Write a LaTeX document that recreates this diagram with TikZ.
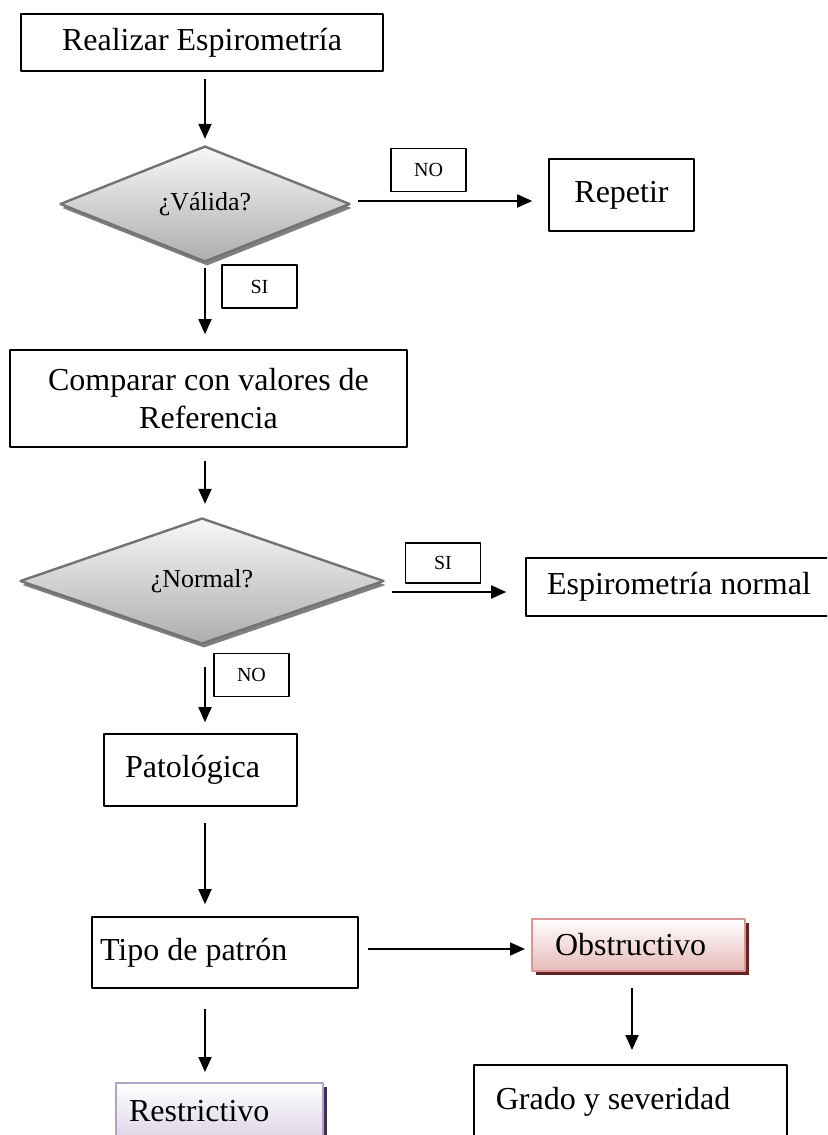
\documentclass[tikz,border=0pt]{standalone}
\usepackage{fontspec}
\setmainfont{Liberation Serif}
\usetikzlibrary{arrows.meta,shapes.geometric,shadows}
\definecolor{rosaborde}{HTML}{D99694}
\definecolor{rosafondo}{HTML}{E6B9B8}
\definecolor{rosasombra}{HTML}{632523}
\definecolor{lilaborde}{HTML}{B3A2C7}
\definecolor{lilafondo}{HTML}{CCC1DA}
\definecolor{lilasombra}{HTML}{3F3151}
\tikzset{
caja/.style={draw, line width=.8pt, inner sep=0pt},
etiqueta/.style={draw, line width=.8pt, inner sep=0pt, minimum width=37.5pt, minimum height=21.5pt, font=\fontsize{10}{12}\selectfont},
decision/.style={diamond, draw=black!55, line width=1.2pt, inner sep=0pt, top color=black!3, bottom color=black!32, font=\fontsize{13}{15}\selectfont, drop shadow={shadow xshift=1pt, shadow yshift=-2pt, fill=black!50, opacity=1}}
}
\begin{document}
\begin{tikzpicture}[x=.5pt, y=-.5pt, font=\fontsize{16}{19}\selectfont, line join=round, >={Triangle[length=7.5pt,width=6.5pt]}]
\useasboundingbox (0,0) rectangle (827,1135);
\clip (0,0) rectangle (827,1135);
\coordinate (eje) at (205,0); % eje de las flechas verticales
\path 
(202,42.5) node[caja, minimum width=181pt, minimum height=28.5pt] (real) {Realizar Espirometría}
(205,204) node[decision, minimum width=145pt, minimum height=46pt] (valida) {¿Válida?}
(621.5,195) node[caja, minimum width=72.5pt, minimum height=36pt] (repetir) {Repetir}
(208.5,398.5) node[caja, minimum width=198.5pt, minimum height=48.5pt, align=center] (comp) {Comparar con valores de\\Referencia}
(202,581) node[decision, minimum width=182pt, minimum height=40pt] (normal) {¿Normal?}
(688,587) node[caja, minimum height=29pt, inner xsep=10.5pt, text width=141pt, align=flush left] (esp) {Espirometría normal}
(200.5,770) node[caja, minimum height=36pt, inner xsep=10.5pt, text width=75.5pt, align=flush left] (pato) {Patológica}
(225,952.5) node[caja, minimum height=35.5pt, inner xsep=4pt, text width=125pt, align=flush left] (tipo) {Tipo de patrón}
(638.5,945) node[caja, draw=rosaborde, line width=1pt, top color=white, bottom color=rosafondo, drop shadow={shadow xshift=1.75pt, shadow yshift=-1.75pt, fill=rosasombra, opacity=1}, minimum height=26pt, inner xsep=11.5pt, text width=83.5pt, align=flush left] (obst) {Obstructivo}
(473,1064) node[caja, anchor=north west, inner xsep=11pt, text width=134.5pt, align=flush left, text height=22.25pt, text depth=26pt] (grado) {Grado y severidad}
(115,1082) node[caja, anchor=north west, draw=lilaborde, line width=1pt, top color=white, bottom color=lilafondo, drop shadow={shadow xshift=1.75pt, shadow yshift=-1.75pt, fill=lilasombra, opacity=1}, inner xsep=6.5pt, text width=90.5pt, align=flush left, text height=19.25pt, text depth=22pt] (restr) {Restrictivo}
(428.5,170) node[etiqueta] (no1) {NO}
(259.5,286.5) node[etiqueta] (si1) {SI}
(443,563) node[etiqueta, minimum height=20pt] (si2) {SI}
(251.5,675) node[etiqueta] (no2) {NO};
\draw[line width=.9pt] 
(real.south -| eje) edge[->, shorten <=3.5pt, shorten >=3pt] (valida.north)
([yshift=1.5pt]valida.east) edge[->, shorten <=3.5pt, shorten >=8pt] ([yshift=1.5pt]valida.east -| repetir.west)
(valida.south) edge[->, shorten <=2.5pt, shorten >=7.5pt] (comp.north -| eje)
(comp.south -| eje) edge[->, shorten <=6.5pt, shorten >=6.5pt] (normal.north -| eje)
([yshift=-5.5pt]normal.east) edge[->, shorten <=3.5pt, shorten >=9.5pt] ([yshift=-5.5pt]normal.east -| esp.west) %SI
(normal.south -| eje) edge[->, shorten <=11pt, shorten >=5.5pt] (pato.north -| eje) %NO
(pato.south -| eje) edge[->, shorten <=8pt, shorten >=6pt] (tipo.north -| eje)
([yshift=1.75pt]tipo.east) edge[->, shorten <=4.5pt, shorten >=3pt] ([yshift=1.75pt]tipo.east -| obst.west)
([xshift=-3.25pt]obst.south) edge[->, shorten <=8pt, shorten >=7pt] ([xshift=-3.25pt]obst.south |- grado.north)
(tipo.south -| eje) edge[->, shorten <=10pt, shorten >=5pt] (restr.north -| eje);
\end{tikzpicture}
\end{document}
